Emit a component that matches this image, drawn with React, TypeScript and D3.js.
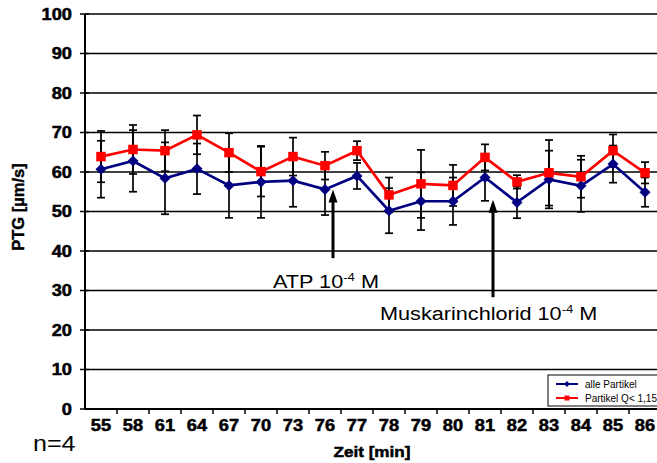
import React from "react";
import * as d3 from "d3";

const categories = ["55","58","61","64","67","70","73","76","77","78","79","80","81","82","83","84","85","86"];
const redValues = [63.9,65.7,65.4,69.4,64.9,60.1,63.9,61.6,65.4,54.2,57.0,56.6,63.7,57.5,59.8,58.8,65.4,59.8];
const redErrors = [6.5,6.2,5.2,4.9,4.9,6.3,4.8,3.5,2.4,4.4,8.6,5.2,3.3,1.7,8.3,5.3,4.1,2.7];
const blueValues = [60.7,62.8,58.4,60.8,56.6,57.5,57.8,55.6,59.0,50.2,52.6,52.6,58.6,52.3,58.1,56.5,62.0,54.9];
const blueErrors = [7.2,7.8,9.1,6.4,8.2,9.1,6.6,6.5,3.3,5.7,7.3,6.0,5.9,4.0,7.3,6.6,4.7,3.7];
const yTicks = [0,10,20,30,40,50,60,70,80,90,100];
const seriesNames = ["alle Partikel", "Partikel Q< 1,15"];

const W = 657, H = 463;
const FONT = "'Liberation Sans', Arial, sans-serif";
const SX = 1.14;

function SText(props: { x: number; y: number; anchor?: string; size: number; bold?: boolean; dy?: string; children: React.ReactNode }) {
  return (
    <g transform={`translate(${props.x},${props.y}) scale(${SX},1)`}>
      <text x={0} y={0} dy={props.dy} textAnchor={props.anchor || "start"} fontSize={props.size}
        fontWeight={props.bold ? "bold" : "normal"}
        stroke={props.bold ? "#000" : "none"} strokeWidth={props.bold ? 0.5 : 0}>
        {props.children}
      </text>
    </g>
  );
}

export default function App() {
  const left = 85, right = 661, top = 14, bottom = 409;
  const x = d3.scaleBand<string>().domain(categories).range([left, right]).padding(0);
  const y = d3.scaleLinear().domain([0, 100]).range([bottom, top]);
  const bw = x.bandwidth();
  const cx = (i: number) => (x(categories[i]) as number) + bw / 2;
  const xi = (f: number) => left + (f + 0.5) * bw;

  const line = d3.line<number>().x((_, i) => cx(i)).y(d => y(d));

  const errBars = (vals: number[], errs: number[], key: string) =>
    vals.map((v, i) => {
      const X = cx(i);
      const y1 = y(v + errs[i]);
      const y2 = y(v - errs[i]);
      return (
        <g key={key + i} stroke="#000" strokeWidth={1.7}>
          <line x1={X} x2={X} y1={y1} y2={y2} />
          <line x1={X - 4} x2={X + 4} y1={y1} y2={y1} />
          <line x1={X - 4} x2={X + 4} y1={y2} y2={y2} />
        </g>
      );
    });

  const diamond = (X: number, Y: number, r: number, key: string) => (
    <path key={key} d={`M${X},${Y - r}L${X + r},${Y}L${X},${Y + r}L${X - r},${Y}Z`} fill="#000080" />
  );
  const square = (X: number, Y: number, s: number, key: string) => (
    <rect key={key} x={X - s / 2} y={Y - s / 2} width={s} height={s} fill="#ff0000" />
  );

  const arrow = (X: number, yTip: number, yTail: number) => (
    <g>
      <line x1={X} x2={X} y1={yTail} y2={yTip + 10} stroke="#000" strokeWidth={3} />
      <path d={`M${X},${yTip}L${X + 4.5},${yTip + 13}L${X - 4.5},${yTip + 13}Z`} fill="#000" />
    </g>
  );

  return (
    <svg width={W} height={H} style={{ position: "absolute", left: 0, top: 0, background: "#fff" }} fontFamily={FONT}>
      <rect x={0} y={0} width={W} height={H} fill="#fff" />
      {yTicks.filter(t => t > 0).map(t => (
        <line key={"g" + t} x1={left} x2={right} y1={y(t)} y2={y(t)} stroke="#000" strokeWidth={1.7} />
      ))}
      <line x1={left} x2={left} y1={top} y2={bottom} stroke="#000" strokeWidth={2} />
      <line x1={left} x2={right} y1={bottom} y2={bottom} stroke="#000" strokeWidth={2} />
      {yTicks.map(t => (
        <g key={"yt" + t}>
          <line x1={left - 5} x2={left + 4} y1={y(t)} y2={y(t)} stroke="#000" strokeWidth={1.5} />
          <SText x={left - 13} y={y(t)} dy="0.36em" anchor="end" size={16} bold>{t}</SText>
        </g>
      ))}
      {categories.map((c, i) => (
        <g key={"xt" + c}>
          <line x1={(x(c) as number) + bw} x2={(x(c) as number) + bw} y1={bottom} y2={bottom + 5} stroke="#000" strokeWidth={1.5} />
          <SText x={cx(i)} y={431} anchor="middle" size={16} bold>{c}</SText>
        </g>
      ))}
      {errBars(blueValues, blueErrors, "be")}
      {errBars(redValues, redErrors, "re")}
      <path d={line(blueValues) as string} fill="none" stroke="#000080" strokeWidth={2.7} />
      <path d={line(redValues) as string} fill="none" stroke="#ff0000" strokeWidth={2.7} />
      {blueValues.map((v, i) => diamond(cx(i), y(v), 5.5, "bd" + i))}
      {redValues.map((v, i) => square(cx(i), y(v), 9.5, "rs" + i))}
      {arrow(xi(7.25), y(55.6), y(38.2))}
      {arrow(xi(12.25), y(53.0), y(28.3))}
      <SText x={273} y={288} size={19}>ATP 10<tspan dy={-7} fontSize={11.5}>-4</tspan><tspan dy={7}> M</tspan></SText>
      <SText x={380} y={320} size={19}>Muskarinchlorid 10<tspan dy={-7} fontSize={11.5}>-4</tspan><tspan dy={7}> M</tspan></SText>
      <text transform={`translate(24,207) rotate(-90)`} textAnchor="middle" fontSize={16.5} fontWeight="bold" stroke="#000" strokeWidth={0.4}>PTG [µm/s]</text>
      <SText x={443 - 410} y={451} size={22}>n=4</SText>
      <SText x={372} y={457} anchor="middle" size={15} bold>Zeit [min]</SText>
      <g>
        <rect x={548} y={375} width={112} height={31} fill="#fff" stroke="#000" strokeWidth={1} />
        <line x1={556} x2={578} y1={384} y2={384} stroke="#000080" strokeWidth={2} />
        {diamond(567, 384, 3, "ld")}
        <text x={585} y={387.5} fontSize={10}>{seriesNames[0]}</text>
        <line x1={556} x2={578} y1={398} y2={398} stroke="#ff0000" strokeWidth={2} />
        {square(567, 398, 5, "ls")}
        <text x={585} y={401.5} fontSize={10}>{seriesNames[1]}</text>
      </g>
    </svg>
  );
}
